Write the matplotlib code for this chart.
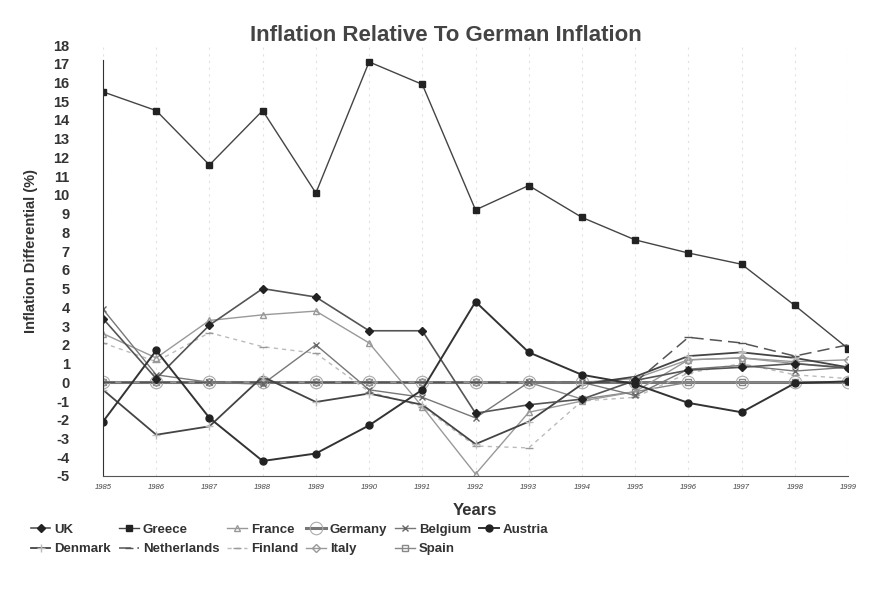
import numpy as np
import matplotlib
matplotlib.use("Agg")
import matplotlib.pyplot as plt

plt.rcParams["axes.unicode_minus"] = False
plt.rcParams["font.family"] = ["Liberation Sans", "DejaVu Sans"]

# values (percentage points vs Germany)
years = list(range(1985, 2000))
year_labels = [str(y) for y in years]

uk = [3.4, 0.2, 3.05, 5.0, 4.55, 2.75, 2.75, -1.65, -1.2, -0.9, 0.1, 0.65, 0.8, 1.0, 0.75]
greece = [15.5, 14.5, 11.6, 14.5, 10.1, 17.1, 15.9, 9.2, 10.5, 8.8, 7.6, 6.9, 6.3, 4.1, 1.8]
france = [2.6, 1.3, 3.3, 3.6, 3.8, 2.1, -1.3, -4.9, -1.6, -1.0, -0.5, 1.2, 1.3, 1.0, 0.8]
germany = [0.0] * 15
belgium = [3.9, 0.4, 0.0, -0.1, 2.0, -0.4, -0.8, -1.9, 0.0, 0.0, -0.7, 0.7, 0.9, 0.6, 0.8]
austria = [-2.1, 1.7, -1.9, -4.2, -3.8, -2.3, -0.4, 4.3, 1.6, 0.4, -0.1, -1.1, -1.6, -0.05, 0.05]
denmark = [-0.4, -2.8, -2.35, 0.3, -1.05, -0.6, -1.2, -3.3, -2.1, -0.1, 0.3, 1.4, 1.6, 1.3, 0.8]
netherlands = [0.0, 0.0, 0.0, 0.0, 0.0, 0.0, 0.0, 0.0, 0.0, 0.0, 0.0, 2.4, 2.1, 1.4, 2.0]
finland = [2.1, 1.1, 2.65, 1.9, 1.55, -0.5, -1.3, -3.4, -3.5, -1.0, -0.8, 0.5, 1.0, 0.4, 0.2]
italy = [0.0, 0.0, 0.0, 0.0, 0.0, 0.0, 0.0, 0.0, 0.0, 0.0, 0.2, 1.2, 1.3, 1.1, 1.2]
spain = [0.0, 0.0, 0.0, 0.0, 0.0, 0.0, 0.0, 0.0, 0.0, -0.9, -0.5, 0.0, 0.0, 0.0, 0.0]

fig = plt.figure(figsize=(8.75, 5.97), dpi=100)
ax = fig.add_axes([0.1177, 0.2027, 0.8515, 0.7219])

# faint vertical guide lines at every year, as on the scan
for y in years:
    ax.axvline(y, color="#e2e2e2", lw=0.8, ls=(0, (2, 4)), zorder=0)

lines = {}
lines["Germany"] = ax.plot(years, germany, color="#777777", lw=2.2, marker="o", ms=9,
                           mfc="none", mec="#aaaaaa", mew=0.8, label="Germany")[0]
lines["Spain"] = ax.plot(years, spain, color="#888888", lw=1.0, marker="s", ms=5,
                         mfc="none", mec="#888888", label="Spain")[0]
lines["Italy"] = ax.plot(years, italy, color="#999999", lw=1.0, marker="D", ms=4,
                         mfc="none", mec="#999999", label="Italy")[0]
lines["Finland"] = ax.plot(years, finland, color="#bbbbbb", lw=1.0, ls=(0, (3, 3)),
                           marker="_", ms=6, mec="#999999", label="Finland")[0]
lines["Netherlands"] = ax.plot(years, netherlands, color="#555555", lw=1.1, ls=(0, (8, 4)),
                               marker="_", ms=6, label="Netherlands")[0]
lines["France"] = ax.plot(years, france, color="#999999", lw=1.0, marker="^", ms=5,
                          mfc="none", mec="#999999", label="France")[0]
lines["Belgium"] = ax.plot(years, belgium, color="#777777", lw=1.0, marker="x", ms=5,
                           mec="#666666", label="Belgium")[0]
lines["Denmark"] = ax.plot(years, denmark, color="#444444", lw=1.3, marker="+", ms=6,
                           mec="#bbbbbb", label="Denmark")[0]
lines["UK"] = ax.plot(years, uk, color="#555555", lw=1.2, marker="D", ms=4,
                      mfc="#222222", mec="#222222", label="UK")[0]
lines["Austria"] = ax.plot(years, austria, color="#333333", lw=1.4, marker="o", ms=5,
                           mfc="#222222", mec="#222222", label="Austria")[0]
lines["Greece"] = ax.plot(years, greece, color="#444444", lw=1.0, marker="s", ms=4,
                          mfc="#222222", mec="#222222", label="Greece")[0]

ax.set_xlim(1985, 1999)
ax.set_ylim(-5, 18)
ax.set_yticks(range(-5, 19))
ax.set_xticks(years)
ax.set_xticklabels(year_labels, fontsize=5.5, color="#444444", style="italic")
ax.tick_params(axis="y", length=0, pad=24, labelsize=10.5, labelcolor="#333333")
ax.tick_params(axis="x", length=0, pad=6)
for lab in ax.get_yticklabels():
    lab.set_fontweight("bold")

for s in ["top", "right"]:
    ax.spines[s].set_visible(False)
ax.spines["left"].set_bounds(-5, 17.2)
ax.spines["left"].set_color("#333333")
ax.spines["bottom"].set_color("#555555")

fig.text(0.51, 0.941, "Inflation Relative To German Inflation", ha="center", va="center",
         fontsize=16, fontweight="bold", color="#444444")
fig.text(0.036, 0.58, "Inflation Differential (%)", rotation=90, ha="center", va="center",
         fontsize=10.5, fontweight="bold", color="#333333")
fig.text(0.543, 0.145, "Years", ha="center", va="center", fontsize=12,
         fontweight="bold", color="#333333")

# legend: two rows, filled column by column
order = ["UK", "Denmark", "Greece", "Netherlands", "France", "Finland",
         "Germany", "Italy", "Belgium", "Spain", "Austria"]
leg = fig.legend([lines[k] for k in order], order, ncol=6, loc="upper left",
                 bbox_to_anchor=(0.035, 0.123), frameon=False, handlelength=1.5,
                 columnspacing=0.6, handletextpad=0.3, labelspacing=0.55,
                 borderpad=0, borderaxespad=0,
                 prop={"weight": "bold", "size": 9.5})
for t in leg.get_texts():
    t.set_color("#333333")

fig.savefig("out.png", dpi=100, facecolor="white")
